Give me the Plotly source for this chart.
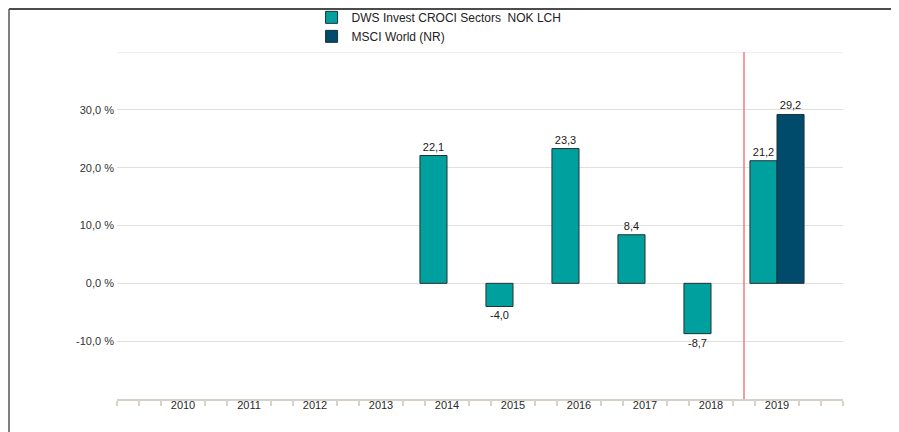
import plotly.graph_objects as go

years = [2010, 2011, 2012, 2013, 2014, 2015, 2016, 2017, 2018, 2019]
fund_name = "DWS Invest CROCI Sectors  NOK LCH"
bench_name = "MSCI World (NR)"
fund = [None, None, None, None, 22.1, -4.0, 23.3, 8.4, -8.7, 21.2]
bench = [None, None, None, None, None, None, None, None, None, 29.2]
ytick_vals = [-10, 0, 10, 20, 30]
ytick_text = ["-10,0 %", "0,0 %", "10,0 %", "20,0 %", "30,0 %"]

def fmt(v):
    return "" if v is None else f"{v:.1f}".replace(".", ",")

teal = "#00A09F"
navy = "#004A6B"
outline = "#1E3236"

W, H = 899, 432
L, T = 109, 44          # page body adds 8px offset
PW, PH = 726, 347
R = W - L - PW
B = H - T - PH

fig = go.Figure()
fig.add_trace(go.Bar(
    x=years, y=fund, name=fund_name,
    marker=dict(color=teal, line=dict(color=outline, width=1)),
    text=[fmt(v) for v in fund], textposition="outside",
    textfont=dict(size=11, color="#1A1A1A"), cliponaxis=False,
))
fig.add_trace(go.Bar(
    x=years, y=bench, name=bench_name,
    marker=dict(color=navy, line=dict(color=outline, width=1)),
    text=[fmt(v) for v in bench], textposition="outside",
    textfont=dict(size=11, color="#1A1A1A"), cliponaxis=False,
))

minor_vals = []
for k in range(0, 34):
    v = 2009 + k / 3
    if k % 3 != 0 or k == 0 or k == 33:
        minor_vals.append(v)

grid = "#E3E0DA"
axis_col = "#D6D2CA"

fig.update_layout(
    width=W, height=H,
    margin=dict(l=L, r=R, t=T, b=B, autoexpand=False),
    paper_bgcolor="white", plot_bgcolor="white",
    font=dict(family="Liberation Sans, Arial, sans-serif", size=11, color="#333333"),
    barmode="group", bargap=0.18, bargroupgap=0,
    showlegend=True,
    legend=dict(
        x=0.268, y=1.1416, xanchor="left", yanchor="top",
        orientation="v", font=dict(size=12, color="#222222"),
        bgcolor="rgba(0,0,0,0)", tracegroupgap=0, itemwidth=30,
    ),
    xaxis=dict(
        range=[2009, 2020], tickmode="array", tickvals=years,
        ticktext=[str(y) for y in years], ticks="", showgrid=False,
        showline=True, linecolor=axis_col, linewidth=2,
        tickfont=dict(size=11, color="#2A2A2A"), zeroline=False,
        ticklabelstandoff=-5,
        minor=dict(tickmode="array", tickvals=minor_vals, ticks="outside",
                   ticklen=5, tickcolor=axis_col, tickwidth=2, showgrid=False),
    ),
    yaxis=dict(
        range=[-20, 40], tickmode="array", tickvals=ytick_vals, ticktext=ytick_text,
        showgrid=True, gridcolor=grid, gridwidth=1, zeroline=False,
        ticks="", showline=False, ticklabelstandoff=2,
        tickfont=dict(size=11, color="#333333"),
    ),
)

# top gridline at 40 %
fig.add_shape(type="line", xref="paper", yref="y", x0=0, x1=1, y0=40, y1=40,
              line=dict(color=grid, width=1), layer="below")
# red separator line between 2018 and 2019
fig.add_shape(type="line", xref="x", yref="y", x0=2018.5, x1=2018.5, y0=-20, y1=40,
              line=dict(color="#F07A7A", width=1.5), layer="above")
# frame lines (top and left)
fx = -(L - 1) / PW
fy = (PH + T - 1) / PH
fig.add_shape(type="line", xref="paper", yref="paper",
              x0=fx, x1=(W - L) / PW, y0=fy, y1=fy,
              line=dict(color="#111111", width=1.5))
fig.add_shape(type="line", xref="paper", yref="paper",
              x0=fx, x1=fx, y0=fy, y1=-B / PH,
              line=dict(color="#555555", width=1.5))

fig.write_html("out.html")
